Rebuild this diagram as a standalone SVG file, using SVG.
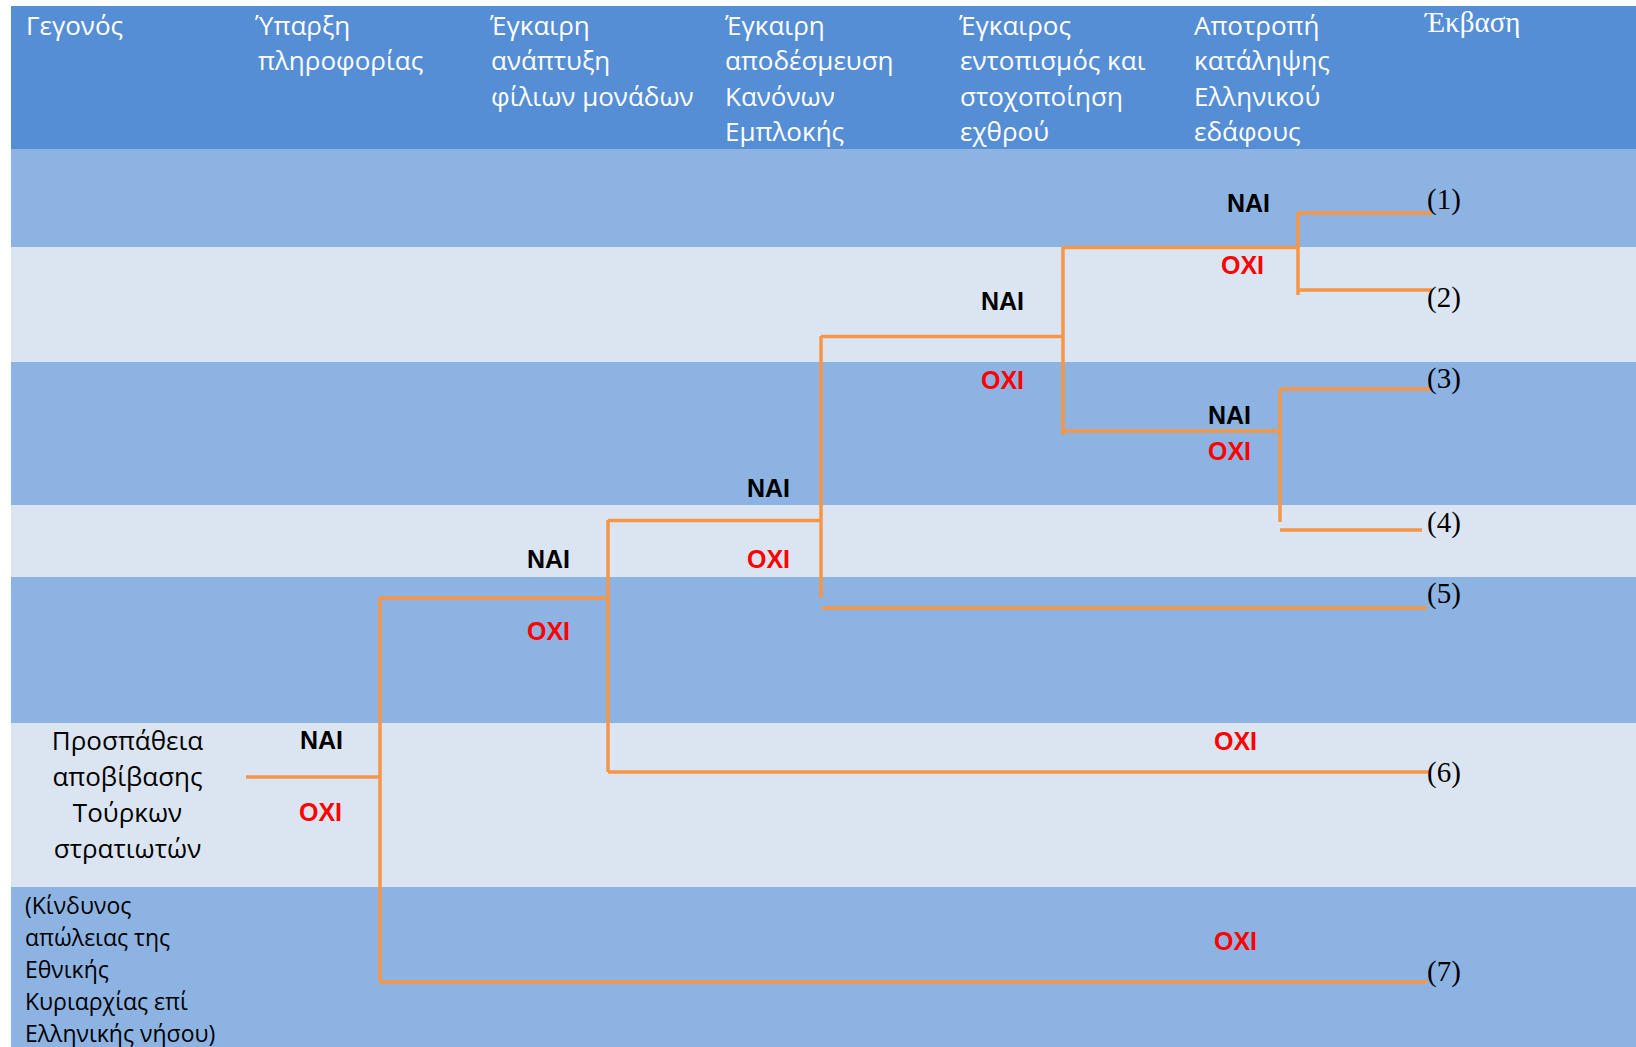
<svg xmlns="http://www.w3.org/2000/svg" width="1636" height="1047" viewBox="0 0 1636 1047">
<style>
.hdr{font-family:"Open Sans","Noto Sans",sans-serif;font-size:26px;fill:#ffffff}
.hdrs{font-family:"Liberation Serif",serif;font-size:29px;fill:#ffffff}
.lbl{font-family:"Open Sans","Noto Sans",sans-serif;font-size:26px;fill:#000000}
.lbls{font-family:"Open Sans","Noto Sans",sans-serif;font-size:23px;fill:#000000}
.nai{font-family:"Liberation Sans",Arial,sans-serif;font-size:25px;font-weight:bold;fill:#000000}
.oxi{font-family:"Liberation Sans",Arial,sans-serif;font-size:25px;font-weight:bold;fill:#ff0000}
.out{font-family:"Liberation Serif",serif;font-size:29px;fill:#000000}
.ln{stroke:#f79646;stroke-width:3.5;fill:none}
</style>
<rect x="0" y="0" width="1636" height="1047" fill="#ffffff"/>
<g id="bands">
<rect x="11" y="6" width="1625" height="143" fill="#558ed5"/>
<rect x="11" y="149" width="1625" height="98" fill="#8db3e2"/>
<rect x="11" y="247" width="1625" height="115" fill="#dbe5f1"/>
<rect x="11" y="362" width="1625" height="143" fill="#8db3e2"/>
<rect x="11" y="505" width="1625" height="72" fill="#dbe5f1"/>
<rect x="11" y="577" width="1625" height="146" fill="#8db3e2"/>
<rect x="11" y="723" width="1625" height="164" fill="#dbe5f1"/>
<rect x="11" y="887" width="1625" height="160" fill="#8db3e2"/>
</g>
<g id="header">
<g id="h-gegonos"><text class="hdr" x="26" y="34.5">Γεγονός</text></g>
<g id="h-yparxi"><text class="hdr" x="255" y="34.5">Ύπαρξη</text><text class="hdr" x="258" y="70">πληροφορίας</text></g>
<g id="h-anaptyxi"><text class="hdr" x="490" y="34.5">Έγκαιρη</text><text class="hdr" x="491" y="70">ανάπτυξη</text><text class="hdr" x="491" y="105.5">φίλιων μονάδων</text></g>
<g id="h-apodesmeusi"><text class="hdr" x="725" y="34.5">Έγκαιρη</text><text class="hdr" x="725" y="70">αποδέσμευση</text><text class="hdr" x="725" y="105.5">Κανόνων</text><text class="hdr" x="725" y="141">Εμπλοκής</text></g>
<g id="h-entopismos"><text class="hdr" x="959" y="34.5">Έγκαιρος</text><text class="hdr" x="960" y="70">εντοπισμός και</text><text class="hdr" x="960" y="105.5">στοχοποίηση</text><text class="hdr" x="960" y="141">εχθρού</text></g>
<g id="h-apotropi"><text class="hdr" x="1194" y="34.5">Αποτροπή</text><text class="hdr" x="1194" y="70">κατάληψης</text><text class="hdr" x="1194" y="105.5">Ελληνικού</text><text class="hdr" x="1194" y="141">εδάφους</text></g>
<g id="h-ekvasi"><text class="hdrs" x="1425" y="32">Έκβαση</text></g>
</g>
<g id="connectors">
<path class="ln" d="M246,777 H381"/>
<path class="ln" d="M380,597 V982"/>
<path class="ln" d="M380,598 H610"/>
<path class="ln" d="M380,982 H1427"/>
<path class="ln" d="M608,520 V772"/>
<path class="ln" d="M608,520.5 H821"/>
<path class="ln" d="M608,772 H1430"/>
<path class="ln" d="M821,336 V598"/>
<path class="ln" d="M821,336.5 H1063"/>
<path class="ln" d="M822,608 H1427"/>
<path class="ln" d="M1063,247 V435"/>
<path class="ln" d="M1063,247.5 H1298"/>
<path class="ln" d="M1063,431 H1281"/>
<path class="ln" d="M1298,212 V295"/>
<path class="ln" d="M1298,213 H1432"/>
<path class="ln" d="M1298,290 H1432"/>
<path class="ln" d="M1280,389 V522"/>
<path class="ln" d="M1280,389 H1432"/>
<path class="ln" d="M1280,530 H1422"/>
</g>
<g id="event">
<text class="lbl" text-anchor="middle" x="127.5" y="750">Προσπάθεια</text>
<text class="lbl" text-anchor="middle" x="127.5" y="786">αποβίβασης</text>
<text class="lbl" text-anchor="middle" x="127.5" y="821.5">Τούρκων</text>
<text class="lbl" text-anchor="middle" x="127.5" y="857.5">στρατιωτών</text>
</g>
<g id="risk">
<text class="lbls" x="25" y="913.5">(Κίνδυνος</text>
<text class="lbls" x="25" y="945.5">απώλειας της</text>
<text class="lbls" x="25" y="977.5">Εθνικής</text>
<text class="lbls" x="25" y="1009.5">Κυριαρχίας επί</text>
<text class="lbls" x="25" y="1041.5">Ελληνικής νήσου)</text>
</g>
<g id="d-info"><text class="nai" x="300" y="749">NAI</text><text class="oxi" x="299" y="821">OXI</text></g>
<g id="d-deploy"><text class="nai" x="527" y="568">NAI</text><text class="oxi" x="527" y="639.5">OXI</text></g>
<g id="d-roe"><text class="nai" x="747" y="496.5">NAI</text><text class="oxi" x="747" y="567.5">OXI</text></g>
<g id="d-target"><text class="nai" x="981" y="309.5">NAI</text><text class="oxi" x="981" y="389">OXI</text></g>
<g id="d-prevent1"><text class="nai" x="1227" y="212">NAI</text><text class="oxi" x="1221" y="274">OXI</text></g>
<g id="d-prevent2"><text class="nai" x="1208" y="424">NAI</text><text class="oxi" x="1208" y="459.5">OXI</text></g>
<g id="d-no6"><text class="oxi" x="1214" y="749.5">OXI</text></g>
<g id="d-no7"><text class="oxi" x="1214" y="950">OXI</text></g>
<g id="outcomes">
<g id="o1"><text class="out" x="1427" y="209">(1)</text></g>
<g id="o2"><text class="out" x="1427" y="307">(2)</text></g>
<g id="o3"><text class="out" x="1427" y="387.5">(3)</text></g>
<g id="o4"><text class="out" x="1427" y="531.5">(4)</text></g>
<g id="o5"><text class="out" x="1427" y="602.5">(5)</text></g>
<g id="o6"><text class="out" x="1427" y="782">(6)</text></g>
<g id="o7"><text class="out" x="1427" y="980.5">(7)</text></g>
</g>
</svg>
